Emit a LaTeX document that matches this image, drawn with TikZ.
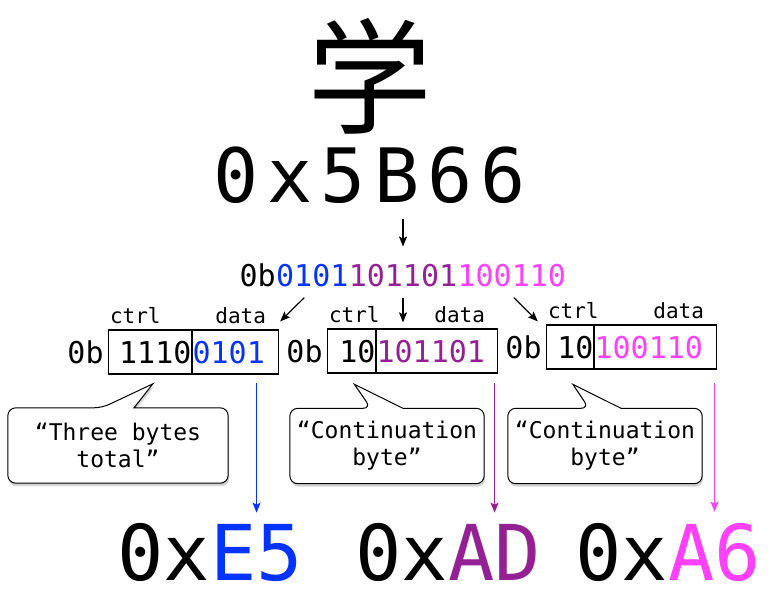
\documentclass[tikz,border=0pt]{standalone}
\usepackage{fontspec}
\usepackage{tikz}
\usetikzlibrary{arrows.meta,calc,shadows,backgrounds}
\newfontfamily\monofont{DejaVu Sans Mono}
\newfontfamily\widemono{DejaVu Sans Mono}[LetterSpace=11]
\newfontfamily\cjkfont{Noto Sans CJK SC}
\definecolor{byteone}{HTML}{0433FF}
\definecolor{bytetwo}{HTML}{942193}
\definecolor{bytethree}{HTML}{FF40FF}

\begin{document}
\begin{tikzpicture}[x=1pt, y=-1pt,
    bits/.style={font=\monofont\fontsize{30}{36}\selectfont, inner sep=0pt},
    cell/.style={draw, line width=1.2pt, minimum height=44pt, inner sep=0pt,
      text height=22pt, text depth=0pt, font=\monofont\fontsize{30}{36}\selectfont},
    ctrlcell/.style={cell, text width=#1, align=right, anchor=east},
    datacell/.style={cell, text width=#1, align=left, anchor=west},
    tag/.style={font=\monofont\fontsize{21}{25}\selectfont, inner sep=0pt},
    hex/.style={font=\monofont\fontsize{77}{90}\selectfont, inner sep=0pt},
    calltext/.style={font=\monofont\fontsize{23}{27}\selectfont, align=center,
      minimum height=75pt, inner sep=0pt},
    bubble/.style={draw, line width=1pt, fill=white,
      drop shadow={opacity=0.35, shadow xshift=1pt, shadow yshift=-3pt}}]
  \tikzset{>={Stealth[length=10pt, width=8pt, inset=2pt]}}
  \useasboundingbox (0,0) rectangle (779,610);

  % character and code point
  \node[font=\cjkfont\fontsize{125}{130}\selectfont, inner sep=0pt] (glyph) at (370,76) {学};
  \node[font=\widemono\fontsize{75}{90}\selectfont, inner sep=0pt, anchor=base] (hexcode) at (370,202) {0x5B66};

  % bit string
  \node[bits, anchor=base, text=bytetwo] (bitsB) at (403,286) {101101};
  \node[bits, anchor=base east, text=byteone] (bitsA) at (bitsB.base west) {0101};
  \node[bits, anchor=base east] (bits0b) at (bitsA.base west) {0b};
  \node[bits, anchor=base west, text=bytethree] (bitsC) at (bitsB.base east) {100110};
  \draw[->, line width=1.2pt] ($(hexcode.south -| bitsB.north)+(0,16)$) -- ($(bitsB.north)+(0,-17)$);

  % the three bytes
  \node[ctrlcell=83pt] (ctrlA) at (192,352) {1110};
  \node[datacell=86pt, text=byteone] (dataA) at (192,352) {0101};
  \node[ctrlcell=48pt] (ctrlB) at (376,351) {10};
  \node[datacell=121pt, text=bytetwo] (dataB) at (376,351) {101101};
  \node[ctrlcell=47pt] (ctrlC) at (594,347) {10};
  \node[datacell=122pt, text=bytethree] (dataC) at (594,347) {100110};
  \foreach \b in {A,B,C} {
    \node[bits, anchor=east] (pre\b) at ($(ctrl\b.west)+(-4,0)$) {0b};
    \node[tag, anchor=south west] (ctrltag\b) at ($(ctrl\b.north west)+(2,-5)$) {ctrl};
    \node[tag, anchor=south east] (datatag\b) at ($(data\b.north east)+(-13,-5)$) {data};
  }
  \draw[->, line width=1.2pt] ($(bitsA.south)+(-8,11)$) -- ($(dataA.north east)+(1,-8)$);
  \draw[->, line width=1.2pt] ($(bitsB.south)+(0,11)$) -- ($(bitsB.south |- dataB.north)+(0,-6)$);
  \draw[->, line width=1.2pt] ($(bitsC.south)+(2,11)$) -- ($(ctrlC.north west)+(-8,-3)$);

  % speech bubbles
  \node[calltext, minimum width=220pt] (callA) at (118,445.5) {“Three bytes\\total”};
  \node[calltext, minimum width=194pt] (callB) at (387,446) {“Continuation\\byte”};
  \node[calltext, minimum width=194pt] (callC) at (605,446) {“Continuation\\byte”};
  \begin{scope}[on background layer]
    \foreach \b in {A,B,C} {
      \coordinate (ptr\b) at ($(ctrl\b.south |- call\b.north)+(3,-24)$);
      \draw[bubble] ($(call\b.north)+(16,0)$) [rounded corners=8pt] -- (call\b.north east)
        -- (call\b.south east) -- (call\b.south west) -- (call\b.north west)
        -- ($(call\b.north)+(-16,0)$) [sharp corners] -- (ptr\b) -- cycle;
    }
  \end{scope}

  % encoded bytes
  \node[hex, anchor=base east] (hexhiA) at (210,580) {0x};
  \node[hex, anchor=base west, text=byteone] (hexloA) at (210,580) {E5};
  \node[hex, anchor=base east] (hexhiB) at (448,580) {0x};
  \node[hex, anchor=base west, text=bytetwo] (hexloB) at (448,580) {AD};
  \node[hex, anchor=base east] (hexhiC) at (668,580) {0x};
  \node[hex, anchor=base west, text=bytethree] (hexloC) at (668,580) {A6};
  \foreach \b/\col in {A/byteone, B/bytetwo, C/bytethree}
    \draw[->, \col, line width=1.5pt] ($(hexlo\b.north |- call\b.north)+(0,-25)$) -- ($(hexlo\b.north)+(0,-11)$);
\end{tikzpicture}
\end{document}
